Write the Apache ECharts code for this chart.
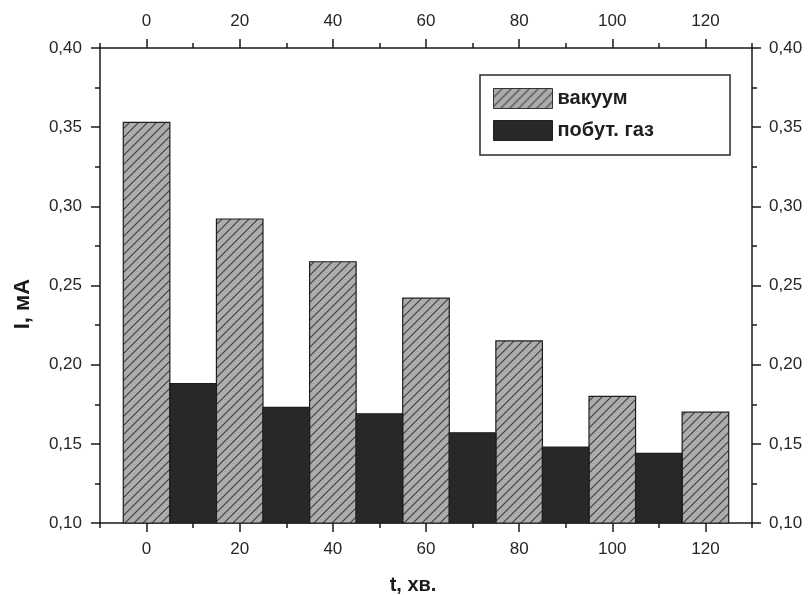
<!DOCTYPE html>
<html>
<head>
<meta charset="utf-8">
<script src="https://cdn.jsdelivr.net/npm/echarts@6/dist/echarts.min.js"></script>
<style>
  html, body { margin: 0; padding: 0; background: #fff; }
  #chart { width: 811px; height: 595px; }
</style>
</head>
<body>
<div id="chart"></div>
<script>
// Measurement times (minutes) and current (mA)
const times = [0, 20, 40, 60, 80, 100, 120];
const vacuumCurrent = [0.353, 0.292, 0.265, 0.242, 0.215, 0.180, 0.170];
const gasCurrent = [0.188, 0.173, 0.169, 0.157, 0.148, 0.144, null];

const xTickLabels = [0, 20, 40, 60, 80, 100, 120];
const yTickLabels = [0.10, 0.15, 0.20, 0.25, 0.30, 0.35, 0.40];

const seriesNames = ['вакуум', 'побут. газ'];

// Each bar spans 10 minutes; the gas bar sits right next to the vacuum bar.
const BAR_SPAN = 10;
const Y_MIN = 0.10, Y_MAX = 0.40;

function makeHatch() {
  const c = document.createElement('canvas');
  const s = 9;
  c.width = s; c.height = s;
  const g = c.getContext('2d');
  g.fillStyle = '#acacac';
  g.fillRect(0, 0, s, s);
  g.strokeStyle = '#3c3c3c';
  g.lineWidth = 1.1;
  g.beginPath();
  g.moveTo(-1, s + 1); g.lineTo(s + 1, -1);
  g.moveTo(-1, 1); g.lineTo(1, -1);
  g.moveTo(s - 1, s + 1); g.lineTo(s + 1, s - 1);
  g.stroke();
  return c;
}
const hatch = { image: makeHatch(), repeat: 'repeat' };
const darkFill = '#282828';

function barRenderer(shift, fill) {
  return function (params, api) {
    const v = api.value(1);
    if (v == null || isNaN(v)) return null;
    const t = api.value(0) + shift;
    const p0 = api.coord([t - BAR_SPAN / 2, v]);
    const p1 = api.coord([t + BAR_SPAN / 2, Y_MIN]);
    return {
      type: 'rect',
      shape: { x: p0[0], y: p0[1], width: p1[0] - p0[0], height: p1[1] - p0[1] },
      style: { fill: fill, stroke: '#1e1e1e', lineWidth: 1.2 }
    };
  };
}

const fmtY = v => v.toFixed(2).replace('.', ',');
const axisFont = { fontFamily: 'Liberation Sans, Arial, sans-serif', fontSize: 17, color: '#262626' };
const lineStyle = { color: '#1a1a1a', width: 1.5 };

function xAxes(position) {
  return [
    { // frame line with minor ticks
      type: 'value', position, min: -10, max: 130, interval: 10,
      axisLine: { show: true, onZero: false, lineStyle },
      axisTick: { show: true, inside: false, length: 5, lineStyle },
      axisLabel: { show: false }, splitLine: { show: false }
    },
    { // major ticks and labels
      type: 'value', position, min: -10, max: 130,
      axisLine: { show: false, onZero: false },
      axisTick: { show: true, inside: false, length: 9, lineStyle, customValues: xTickLabels },
      axisLabel: Object.assign({ show: true, margin: 18, customValues: xTickLabels }, axisFont),
      splitLine: { show: false }
    }
  ];
}

function yAxis(position, margin) {
  return {
    type: 'value', position, min: Y_MIN, max: Y_MAX, interval: 0.05,
    axisLine: { show: true, onZero: false, lineStyle },
    axisTick: { show: true, inside: false, length: 9, lineStyle },
    minorTick: { show: true, splitNumber: 2, length: 5, lineStyle },
    axisLabel: Object.assign({ margin, formatter: v => fmtY(v),
      customValues: yTickLabels }, axisFont),
    splitLine: { show: false }
  };
}

const chart = echarts.init(document.getElementById('chart'), null, { renderer: 'canvas' });

chart.setOption({
  backgroundColor: '#ffffff',
  animation: false,
  grid: { left: 100, right: 59, top: 48, bottom: 72, containLabel: false },
  xAxis: [...xAxes('bottom'), ...xAxes('top')],
  yAxis: [yAxis('left', 18), yAxis('right', 17)],
  legend: {
    left: 480, top: 75,
    orient: 'vertical',
    itemWidth: 59, itemHeight: 20, itemGap: 11,
    padding: [13, 76, 14, 13],
    borderColor: '#2a2a2a', borderWidth: 1.5, borderRadius: 0,
    textStyle: { fontFamily: 'Liberation Sans, Arial, sans-serif', fontSize: 20, fontWeight: 'bold', color: '#1e1e1e' },
    data: [
      { name: seriesNames[0], icon: 'rect', itemStyle: { color: hatch, borderColor: '#333', borderWidth: 1 } },
      { name: seriesNames[1], icon: 'rect', itemStyle: { color: darkFill, borderColor: '#222', borderWidth: 1 } }
    ]
  },
  graphic: [
    {
      type: 'text', x: 23, y: 304, rotation: Math.PI / 2,
      style: { text: 'I, мА', fill: '#1a1a1a', font: 'bold 22px Liberation Sans, Arial, sans-serif', align: 'center', verticalAlign: 'middle' }
    },
    {
      type: 'text', x: 413, y: 585,
      style: { text: 't, хв.', fill: '#1a1a1a', font: 'bold 20px Liberation Sans, Arial, sans-serif', align: 'center', verticalAlign: 'middle' }
    }
  ],
  series: [
    {
      name: seriesNames[0], type: 'custom', xAxisIndex: 0, yAxisIndex: 0,
      itemStyle: { color: hatch },
      renderItem: barRenderer(0, hatch),
      data: times.map((t, i) => [t, vacuumCurrent[i]])
    },
    {
      name: seriesNames[1], type: 'custom', xAxisIndex: 0, yAxisIndex: 0,
      itemStyle: { color: darkFill },
      renderItem: barRenderer(BAR_SPAN, darkFill),
      data: times.map((t, i) => [t, gasCurrent[i]])
    }
  ]
});
</script>
</body>
</html>
